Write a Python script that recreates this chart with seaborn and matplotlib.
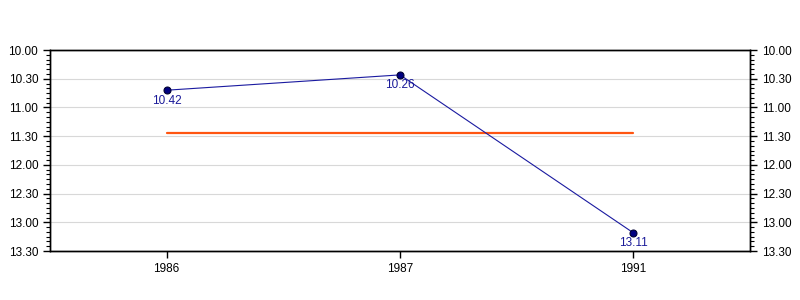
import matplotlib
matplotlib.use("Agg")
import matplotlib.pyplot as plt
import seaborn as sns
import numpy as np
from matplotlib.ticker import FuncFormatter, MultipleLocator

years = ["1986", "1987", "1991"]
times_sec = [642, 626, 791]          # 10.42, 10.26, 13.11 (min.sec)
time_labels = ["10.42", "10.26", "13.11"]
y_min_sec, y_max_sec = 600, 810      # 10.00 .. 13.30

sns.set_theme(style="white")
plt.rcParams['font.family'] = ['Liberation Sans', 'DejaVu Sans']

fig = plt.figure(figsize=(8, 3), dpi=100)
ax = fig.add_axes([0.0625, 0.1633, 0.875, 0.67])

mean_sec = float(np.mean(times_sec))
sns.lineplot(x=years, y=[mean_sec] * len(years), ax=ax, color="#FF5511",
             linewidth=1.6, zorder=2)
sns.lineplot(x=years, y=times_sec, ax=ax, color="#1a1aa0", linewidth=0.8,
             marker="o", markersize=5, markerfacecolor="#000080",
             markeredgecolor="#000033", markeredgewidth=0.8, zorder=3)

for i, (t, lab) in enumerate(zip(times_sec, time_labels)):
    ax.annotate(lab, (i, t), xytext=(0, -7.5), textcoords="offset points",
                ha="center", va="center", fontsize=8.5, color="#1a1a99")

fmt = FuncFormatter(lambda v, p: f"{int(v // 60)}.{int(round(v % 60)):02d}")

ax.set_xlim(-0.5, len(years) - 0.5)
ax.set_ylim(y_max_sec, y_min_sec)
ax.yaxis.set_major_locator(MultipleLocator(30))
ax.yaxis.set_minor_locator(MultipleLocator(5))
ax.yaxis.set_major_formatter(fmt)
ax.grid(axis="y", which="major", color="#d8d8d8", linewidth=0.8)
ax.set_axisbelow(True)
ax.set_xlabel("")
ax.set_ylabel("")

for s in ax.spines.values():
    s.set_color("black")
    s.set_linewidth(1)

ax.tick_params(axis="both", which="major", direction="out", length=5,
               width=1, colors="black", labelsize=8.5, left=True, bottom=True)
ax.tick_params(axis="y", which="minor", direction="out", length=3,
               width=0.8, colors="black", left=True)

ax2 = ax.twinx()
ax2.set_ylim(y_max_sec, y_min_sec)
ax2.yaxis.set_major_locator(MultipleLocator(30))
ax2.yaxis.set_minor_locator(MultipleLocator(5))
ax2.yaxis.set_major_formatter(fmt)
ax2.tick_params(axis="y", which="major", direction="out", length=5,
                width=1, colors="black", labelsize=8.5, right=True)
ax2.tick_params(axis="y", which="minor", direction="out", length=3,
                width=0.8, colors="black", right=True)
ax2.grid(False)
for s in ax2.spines.values():
    s.set_color("black")
    s.set_linewidth(1)

fig.savefig("out.png", dpi=100)
